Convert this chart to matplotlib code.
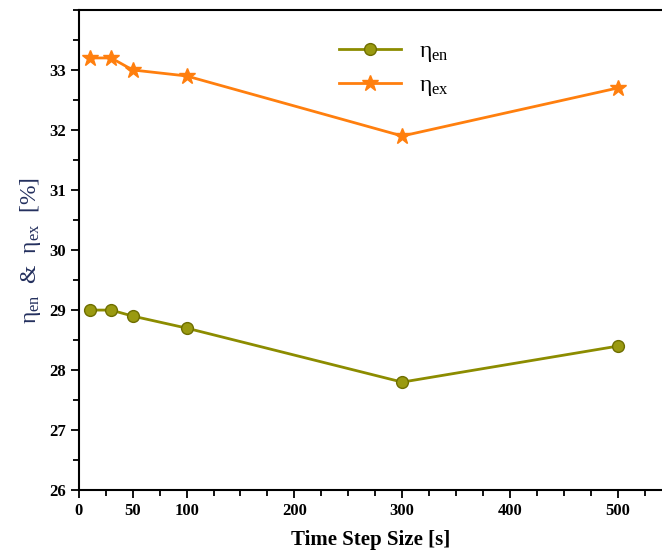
import matplotlib
matplotlib.use("Agg")
import matplotlib.pyplot as plt
from matplotlib.ticker import MultipleLocator, FixedLocator

# time step sizes [s] and efficiencies [%]
step_size = [10, 30, 50, 100, 300, 500]
eta_en = [29.0, 29.0, 28.9, 28.7, 27.8, 28.4]
eta_ex = [33.2, 33.2, 33.0, 32.9, 31.9, 32.7]
x_ticks = [0, 50, 100, 200, 300, 400, 500]

plt.rcParams['font.family'] = ['Liberation Serif', 'DejaVu Serif']
plt.rcParams['mathtext.fontset'] = 'custom'
plt.rcParams['mathtext.rm'] = 'Liberation Serif'
plt.rcParams['mathtext.it'] = 'Liberation Serif'

fig = plt.figure(figsize=(6.62, 5.52), dpi=100)
ax = fig.add_axes([0.119, 0.112, 0.881, 0.870])

olive = '#8c8c00'
orange = '#ff7f0e'
ax.plot(step_size, eta_en, color=olive, lw=2, marker='o', ms=8.5,
        mfc='#9a9a10', mec='#6e6e00', label=r'$\mathrm{\eta_{en}}$')
ax.plot(step_size, eta_ex, color=orange, lw=2, marker='*', ms=12,
        mfc=orange, mec=orange, label=r'$\mathrm{\eta_{ex}}$')

ax.set_xlim(0, 541)
ax.set_ylim(26, 34)
ax.xaxis.set_major_locator(FixedLocator(x_ticks))
ax.xaxis.set_minor_locator(MultipleLocator(25))
ax.yaxis.set_major_locator(FixedLocator([26, 27, 28, 29, 30, 31, 32, 33]))
ax.yaxis.set_minor_locator(MultipleLocator(0.5))
ax.tick_params(which='major', direction='out', length=6, width=1.3, labelsize=12)
ax.tick_params(which='minor', direction='out', length=4, width=1.3)
for lbl in ax.get_xticklabels() + ax.get_yticklabels():
    lbl.set_fontweight('bold')

for side in ['left', 'bottom', 'top']:
    ax.spines[side].set_linewidth(1.5)
ax.spines['right'].set_visible(False)

ax.set_xlabel('Time Step Size [s]', fontsize=15, fontweight='bold', labelpad=8)
ax.set_ylabel(r'$\mathrm{\eta_{en}}$  &  $\mathrm{\eta_{ex}}$  [%]', fontsize=17,
              color='#24305e', labelpad=4)

ax.legend(loc='upper left', bbox_to_anchor=(0.41, 0.98), frameon=False,
          fontsize=17, handlelength=2.6, labelspacing=0.45)

fig.savefig('out.png', dpi=100)
